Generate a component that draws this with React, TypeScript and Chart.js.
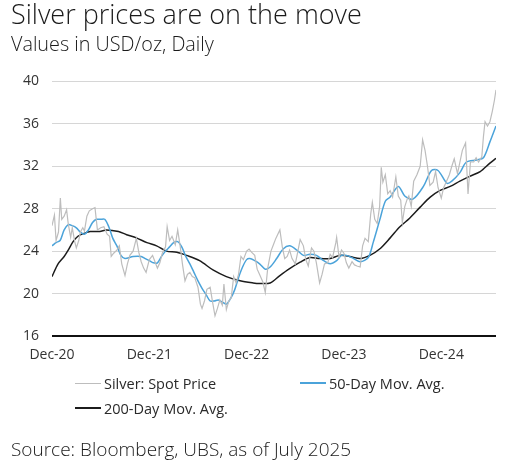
import React, { useEffect, useRef } from "react";
import { Chart, registerables } from "chart.js";

Chart.register(...registerables);

// ---- Data (months since end of Dec 2020) ----
const spotMonths = [
  0, 0.3, 0.5, 0.8, 1.03, 1.2, 1.5, 1.8, 2.0, 2.3, 2.5, 2.8, 3.0, 3.3, 3.5, 3.8, 4.0, 4.3, 4.6, 5.0,
  5.3, 5.6, 6.0, 6.4, 6.8, 7.1, 7.3, 7.6, 8.0, 8.3, 8.6, 9.0, 9.3, 9.6, 10.0, 10.4, 10.7, 11.0, 11.3, 11.6,
  12.0, 12.4, 12.7, 13.0, 13.3, 13.6, 14.0, 14.2, 14.5, 14.8, 15.2, 15.5, 15.8, 16.1, 16.4, 16.7, 17.0, 17.3, 17.6, 18.0,
  18.3, 18.5, 18.8, 19.1, 19.5, 19.8, 20.1, 20.4, 20.7, 21.0, 21.2, 21.5, 21.8, 22.1, 22.4, 22.7, 23.0, 23.3, 23.6, 24.0,
  24.3, 24.6, 25.0, 25.3, 25.6, 26.0, 26.3, 26.6, 27.0, 27.3, 27.6, 28.1, 28.4, 28.7, 29.0, 29.3, 29.6, 30.0, 30.3, 30.6,
  31.0, 31.3, 31.6, 32.0, 32.3, 32.6, 33.0, 33.3, 33.6, 34.0, 34.3, 34.6, 35.0, 35.1, 35.4, 35.7, 36.0, 36.3, 36.6, 37.0,
  37.3, 37.6, 38.0, 38.3, 38.6, 39.0, 39.3, 39.5, 39.8, 40.1, 40.4, 40.6, 40.8, 41.1, 41.4, 41.7, 42.0, 42.4, 42.7, 43.0,
  43.2, 43.5, 43.8, 44.0, 44.3, 44.6, 45.0, 45.4, 45.7, 46.0, 46.3, 46.6, 47.0, 47.3, 47.6, 48.0, 48.3, 48.6, 49.0, 49.3,
  49.6, 50.0, 50.3, 50.6, 51.0, 51.3, 51.6, 52.0, 52.3, 52.6, 53.0, 53.2, 53.4, 53.7, 54.0, 54.3, 54.55, 54.75,
];
const spotPrices = [
  26.4, 27.4, 25.0, 25.8, 29.0, 27.0, 27.3, 27.9, 26.6, 25.3, 26.2, 24.9, 24.3, 25.0, 25.8, 26.2, 25.9, 27.3, 27.8, 28.0,
  28.1, 26.0, 26.2, 26.3, 25.6, 25.4, 23.5, 23.8, 24.1, 24.5, 22.8, 21.7, 22.8, 23.6, 24.0, 25.2, 23.9, 23.0, 22.4, 22.0,
  23.2, 23.6, 23.0, 22.4, 22.9, 23.8, 24.4, 26.3, 25.0, 25.4, 24.6, 26.0, 24.5, 22.7, 21.2, 21.8, 22.0, 21.6, 21.5, 20.6,
  19.0, 18.6, 19.3, 20.4, 20.6, 19.2, 17.9, 18.6, 19.4, 18.9, 20.9, 18.5, 19.3, 19.6, 21.6, 21.0, 21.8, 23.5, 23.2, 24.0,
  24.2, 23.9, 23.6, 22.3, 21.8, 21.1, 20.1, 22.4, 24.0, 24.6, 25.2, 26.0, 24.4, 23.3, 23.5, 24.1, 23.3, 22.8, 23.9, 25.1,
  24.5, 23.2, 22.6, 24.3, 24.0, 22.9, 21.0, 21.8, 22.8, 22.9, 23.7, 23.4, 24.8, 25.3, 23.4, 24.1, 23.8, 22.9, 22.4, 23.0,
  22.7, 22.6, 22.5, 24.5, 25.2, 24.9, 27.5, 28.6, 27.0, 26.6, 28.2, 31.9, 30.5, 31.2, 29.4, 29.7, 29.1, 31.0, 29.2, 28.8,
  26.7, 28.2, 28.9, 29.2, 28.2, 30.6, 31.2, 32.0, 34.5, 33.5, 32.0, 30.2, 30.5, 31.5, 30.0, 29.0, 30.0, 30.5, 31.2, 32.0,
  32.7, 31.3, 32.4, 33.5, 34.2, 29.4, 32.4, 32.4, 32.8, 32.4, 32.9, 34.8, 36.2, 35.8, 36.2, 37.2, 38.2, 39.2,
];

const ma50Months = [
  0, 0.5, 1, 1.5, 2, 2.5, 3, 3.5, 4, 4.5, 5, 5.5, 6, 6.5, 7, 7.5, 8, 8.5, 9, 10,
  11, 11.5, 12, 12.5, 13, 13.5, 14, 14.5, 15, 15.5, 16, 16.5, 17, 17.5, 18, 18.5, 19, 19.5, 20, 20.5,
  21, 21.5, 22, 22.5, 23, 23.5, 24, 24.4, 25.0, 25.6, 26.3, 26.9, 27.7, 28.5, 29.3, 30.2, 31.0, 31.8, 32.6, 33.5,
  34.3, 35.1, 35.7, 36.3, 37.2, 38.0, 39.0, 39.6, 40.4, 41.1, 41.7, 42.7, 43.5, 44.5, 45.8, 46.8, 47.6, 48.7, 49.3, 50.3,
  51.1, 52.4, 53.2, 54.0, 54.75,
];
const ma50Values = [
  24.5, 24.8, 25.0, 26.0, 26.5, 26.4, 26.2, 25.8, 25.6, 26.0, 26.7, 27.0, 27.0, 27.0, 26.3, 25.2, 24.5, 23.6, 23.3, 23.5,
  23.5, 23.3, 23.1, 22.9, 22.9, 23.5, 24.0, 24.4, 24.8, 24.9, 24.4, 23.5, 22.8, 22.0, 21.2, 20.5, 19.9, 19.3, 19.3, 19.4,
  19.2, 19.0, 19.5, 20.3, 21.5, 22.5, 23.2, 23.3, 23.1, 22.8, 22.3, 22.5, 23.3, 24.2, 24.5, 24.1, 23.6, 23.7, 23.6, 23.1,
  22.8, 23.1, 23.6, 23.6, 23.3, 23.0, 23.4, 24.8, 26.9, 28.7, 29.1, 30.1, 29.2, 28.9, 30.1, 31.6, 31.6, 30.4, 30.6, 31.4,
  32.4, 32.6, 32.8, 34.3, 35.8,
];

const ma200Months = [
  0, 0.75, 1.5, 2, 2.6, 3.2, 3.7, 4.7, 5.9, 6.7, 8.2, 9.2, 10.4, 11.7, 12.9, 14.1, 15.4, 16.6, 18.2, 19.9,
  21.5, 23.2, 24.8, 25.6, 26.9, 28.1, 29.3, 30.6, 31.8, 33.0, 34.3, 35.5, 36.7, 38.0, 39.2, 40.4, 41.7, 42.9, 44.1, 45.4,
  46.6, 47.8, 49.1, 50.3, 51.5, 52.8, 54.0, 54.75,
];
const ma200Values = [
  21.6, 22.8, 23.5, 24.1, 24.9, 25.4, 25.6, 25.85, 25.85, 26.0, 25.85, 25.55, 25.25, 24.8, 24.5, 24.0, 23.9, 23.6, 23.1, 22.2,
  21.6, 21.2, 21.0, 20.95, 21.0, 21.7, 22.35, 22.96, 23.4, 23.3, 23.3, 23.6, 23.5, 23.3, 23.6, 24.2, 25.25, 26.3, 27.1, 28.15,
  29.07, 29.7, 30.1, 30.6, 31.05, 31.5, 32.3, 32.75,
];

const tickMonths = [0, 12, 24, 36, 48];
const tickLabels = ["Dec-20", "Dec-21", "Dec-22", "Dec-23", "Dec-24"];

const seriesNames = ["Silver: Spot Price", "50-Day Mov. Avg.", "200-Day Mov. Avg."];
const seriesColors = ["#bdbdbd", "#4ba3da", "#1c1c1c"];

const FONT = "'Open Sans', 'Noto Sans', sans-serif";

function pts(xs: number[], ys: number[]) {
  return xs.map((x, i) => ({ x, y: ys[i] }));
}

export default function App() {
  const ref = useRef<HTMLCanvasElement>(null);

  useEffect(() => {
    if (!ref.current) return;
    const chart = new Chart(ref.current, {
      type: "line",
      data: {
        datasets: [
          {
            label: seriesNames[0],
            data: pts(spotMonths, spotPrices),
            borderColor: seriesColors[0],
            borderWidth: 1.2,
            pointRadius: 0,
            tension: 0,
          },
          {
            label: seriesNames[1],
            data: pts(ma50Months, ma50Values),
            borderColor: seriesColors[1],
            borderWidth: 1.5,
            pointRadius: 0,
            tension: 0.3,
          },
          {
            label: seriesNames[2],
            data: pts(ma200Months, ma200Values),
            borderColor: seriesColors[2],
            borderWidth: 1.5,
            pointRadius: 0,
            tension: 0.3,
          },
        ],
      },
      options: {
        animation: false,
        responsive: true,
        maintainAspectRatio: false,
        layout: { padding: { top: 14, right: 10, left: 0, bottom: 0 } },
        plugins: { legend: { display: false }, tooltip: { enabled: false } },
        scales: {
          x: {
            type: "linear",
            min: 0,
            max: 54.75,
            grid: { display: false, drawTicks: false },
            border: { display: false },
            afterBuildTicks: (axis: any) => {
              axis.ticks = tickMonths.map((v) => ({ value: v }));
            },
            afterFit: (axis: any) => {
              axis.height = 34;
            },
            ticks: {
              autoSkip: false,
              maxRotation: 0,
              padding: 11,
              color: "#333",
              font: { family: FONT, size: 14 },
              callback: (v: any) => {
                const i = tickMonths.indexOf(Number(v));
                return i >= 0 ? tickLabels[i] : "";
              },
            },
          },
          y: {
            min: 16,
            max: 40,
            grid: {
              drawTicks: false,
              color: (ctx: any) => (ctx.tick && ctx.tick.value === 16 ? "#111" : "#d6d6d6"),
              lineWidth: (ctx: any) => (ctx.tick && ctx.tick.value === 16 ? 2 : 1),
            },
            border: { display: false },
            afterFit: (axis: any) => {
              axis.width = 52;
            },
            ticks: {
              stepSize: 4,
              padding: 13,
              color: "#333",
              font: { family: FONT, size: 14 },
            },
          },
        },
      },
    });
    return () => chart.destroy();
  }, []);

  const legendItem = (i: number, left: number, top: number) => (
    <div
      key={i}
      style={{ position: "absolute", left, top, display: "flex", alignItems: "center", height: 18 }}
    >
      <div style={{ width: 26, height: i === 0 ? 1 : 1.5, background: seriesColors[i], marginRight: 3 }} />
      <span style={{ fontSize: 14.5, color: "#2a2a2a", whiteSpace: "nowrap" }}>{seriesNames[i]}</span>
    </div>
  );

  return (
    <div
      style={{
        position: "fixed",
        left: 0,
        top: 0,
        width: 506,
        height: 463,
        background: "#fff",
        fontFamily: FONT,
        color: "#1a1a1a",
      }}
    >
      <div style={{ position: "absolute", left: 11, top: -5, fontSize: 27, fontWeight: 300, whiteSpace: "nowrap" }}>
        Silver prices are on the move
      </div>
      <div style={{ position: "absolute", left: 11, top: 30, fontSize: 19.8, fontWeight: 300, whiteSpace: "nowrap" }}>
        Values in USD/oz, Daily
      </div>
      <div style={{ position: "absolute", left: 0, top: 60, width: 506, height: 310 }}>
        <canvas ref={ref} />
      </div>
      {legendItem(0, 75, 374)}
      {legendItem(1, 300, 374)}
      {legendItem(2, 75, 399)}
      <div style={{ position: "absolute", left: 11, top: 436, fontSize: 19, fontWeight: 300, whiteSpace: "nowrap" }}>
        Source: Bloomberg, UBS, as of July 2025
      </div>
    </div>
  );
}
